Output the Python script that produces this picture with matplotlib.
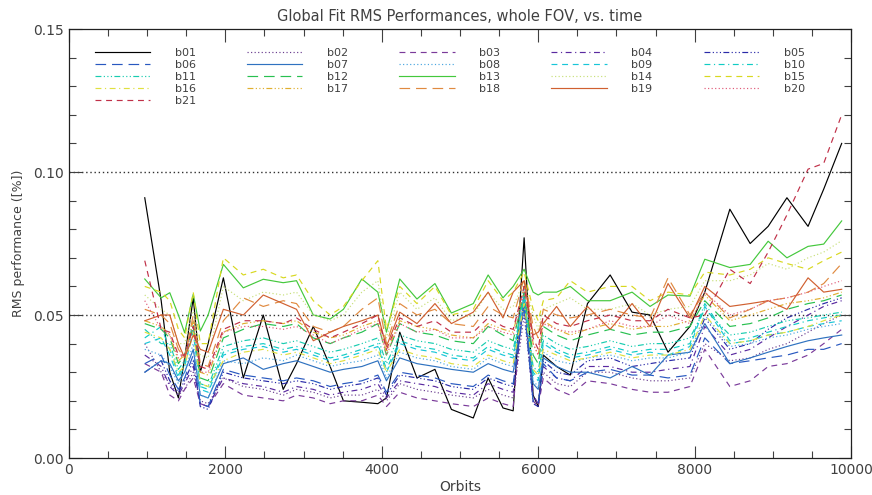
import matplotlib
matplotlib.use("Agg")
import matplotlib.pyplot as plt
from matplotlib.ticker import MultipleLocator, FormatStrFormatter
import numpy as np

# orbit numbers of the measurements (shared by all bands)
orbits = [970, 1180, 1290, 1400, 1480, 1590, 1680, 1780, 1975, 2230, 2485, 2740, 2910, 3125, 3340,
          3510, 3745, 3950, 4060, 4230, 4450, 4680, 4890, 5170, 5360, 5550, 5680, 5820, 5935, 6000,
          6065, 6235, 6410, 6630, 6920, 7200, 7430, 7660, 7940, 8130, 8450, 8710, 8940, 9180, 9450,
          9650, 9880]

band_names = ["b%02d" % i for i in range(1, 22)]

b01 = [.091, .055, .030, .021, .035, .056, .030, .040, .063, .028, .050, .024, .033, .046, .032,
       .020, .0195, .019, .021, .044, .028, .031, .017, .014, .028, .0175, .0165, .077, .022, .018,
       .036, .032, .029, .054, .064, .051, .050, .037, .046, .058, .087, .075, .081, .091, .081,
       .094, .110]
b02 = [.040, .030, .026, .022, .024, .030, .020, .019, .028, .025, .024, .022, .024, .023, .021,
       .022, .022, .024, .020, .026, .024, .023, .022, .021, .024, .022, .021, .050, .021, .019,
       .030, .026, .025, .030, .030, .028, .027, .027, .028, .040, .034, .035, .038, .040, .044,
       .047, .050]
b03 = [.033, .030, .022, .020, .024, .028, .019, .018, .026, .022, .021, .020, .022, .021, .019,
       .020, .020, .022, .018, .023, .021, .020, .019, .018, .021, .019, .018, .058, .020, .018,
       .028, .024, .022, .027, .026, .024, .023, .023, .025, .038, .025, .027, .032, .033, .036,
       .040, .045]
b04 = [.036, .032, .025, .022, .026, .032, .019, .018, .028, .026, .025, .023, .025, .024, .022,
       .023, .024, .026, .021, .027, .026, .025, .023, .022, .026, .024, .023, .056, .022, .019,
       .032, .028, .027, .032, .032, .030, .030, .031, .032, .046, .036, .038, .042, .046, .050,
       .053, .055]
b05 = [.030, .034, .027, .023, .027, .034, .018, .017, .030, .028, .027, .026, .027, .026, .024,
       .025, .026, .028, .022, .029, .028, .027, .025, .024, .028, .026, .025, .055, .019, .018,
       .034, .030, .029, .034, .035, .032, .033, .034, .035, .049, .038, .040, .045, .049, .052,
       .054, .056]
b06 = [.033, .036, .029, .024, .028, .036, .019, .018, .031, .029, .028, .027, .028, .027, .025,
       .026, .027, .029, .023, .030, .029, .028, .026, .025, .029, .027, .026, .053, .020, .019,
       .033, .028, .027, .030, .031, .029, .029, .028, .029, .042, .033, .034, .035, .036, .038,
       .038, .040]
b07 = [.030, .034, .033, .027, .030, .038, .022, .021, .033, .035, .031, .033, .034, .032, .030,
       .031, .032, .034, .027, .035, .033, .032, .031, .030, .033, .031, .030, .055, .026, .024,
       .035, .032, .030, .030, .028, .032, .029, .036, .037, .047, .033, .035, .037, .039, .041,
       .042, .043]
b08 = [.038, .036, .032, .026, .030, .040, .022, .021, .034, .033, .035, .034, .036, .034, .032,
       .033, .034, .036, .028, .037, .035, .034, .032, .031, .035, .033, .032, .060, .027, .025,
       .037, .034, .033, .035, .036, .034, .035, .035, .037, .050, .039, .040, .042, .043, .045,
       .046, .047]
b09 = [.040, .042, .036, .028, .032, .044, .024, .023, .036, .038, .039, .037, .038, .036, .034,
       .035, .037, .039, .030, .040, .038, .037, .035, .034, .038, .036, .035, .058, .029, .027,
       .040, .037, .035, .036, .038, .036, .037, .036, .039, .053, .040, .041, .043, .044, .046,
       .047, .048]
b10 = [.042, .046, .038, .029, .033, .046, .025, .024, .037, .039, .040, .038, .039, .037, .035,
       .036, .038, .040, .031, .041, .039, .038, .036, .035, .039, .037, .036, .057, .030, .028,
       .041, .038, .036, .037, .039, .037, .038, .038, .040, .054, .041, .042, .044, .046, .048,
       .049, .050]
b11 = [.045, .040, .040, .031, .034, .048, .026, .025, .039, .041, .042, .040, .041, .039, .037,
       .038, .040, .042, .033, .043, .041, .040, .038, .037, .041, .039, .038, .056, .032, .030,
       .043, .040, .038, .039, .041, .039, .040, .040, .042, .052, .043, .044, .046, .048, .049,
       .050, .051]
b12 = [.047, .045, .042, .033, .036, .046, .028, .027, .042, .045, .047, .046, .047, .042, .040,
       .042, .044, .047, .036, .047, .044, .043, .041, .040, .046, .043, .041, .058, .036, .033,
       .046, .043, .041, .043, .045, .043, .044, .044, .046, .055, .046, .047, .049, .052, .054,
       .055, .057]
b13 = [.0626, .056, .0578, .050, .0438, .0573, .0444, .050, .0677, .0595, .0625, .0613, .062, .050,
       .0486, .052, .0626, .058, .044, .0626, .0556, .061, .0507, .054, .064, .056, .060, .066, .058,
       .057, .058, .058, .060, .055, .055, .058, .053, .057, .0566, .0695, .0666, .0677, .0758, .070,
       .074, .0748, .0829]
b14 = [.057, .052, .050, .040, .040, .052, .036, .035, .060, .055, .058, .057, .058, .050, .048,
       .050, .058, .062, .042, .058, .052, .056, .048, .050, .058, .052, .053, .062, .050, .045,
       .052, .054, .056, .052, .052, .054, .050, .052, .053, .062, .062, .064, .068, .066, .070,
       .072, .076]
b15 = [.060, .058, .055, .045, .042, .058, .040, .040, .070, .064, .066, .063, .064, .055, .050,
       .053, .062, .069, .045, .060, .054, .060, .050, .052, .062, .055, .058, .065, .052, .048,
       .055, .056, .062, .058, .060, .060, .055, .058, .057, .065, .064, .066, .070, .068, .066,
       .069, .072]
b16 = [.044, .042, .038, .030, .032, .044, .026, .025, .034, .037, .038, .036, .037, .035, .033,
       .034, .036, .038, .030, .038, .036, .035, .033, .032, .036, .034, .033, .054, .031, .029,
       .038, .036, .034, .035, .037, .035, .036, .036, .038, .050, .040, .041, .043, .044, .046,
       .048, .050]
b17 = [.048, .046, .043, .034, .036, .048, .030, .029, .044, .047, .048, .047, .048, .044, .042,
       .043, .046, .048, .037, .048, .046, .045, .043, .042, .047, .045, .044, .060, .040, .036,
       .048, .045, .043, .045, .047, .045, .046, .046, .048, .057, .048, .050, .052, .054, .055,
       .056, .058]
b18 = [.052, .050, .047, .038, .035, .050, .033, .032, .048, .056, .053, .055, .054, .046, .044,
       .046, .052, .056, .040, .054, .050, .052, .047, .046, .053, .050, .049, .063, .046, .042,
       .052, .050, .049, .050, .052, .050, .049, .063, .050, .058, .049, .052, .055, .056, .058,
       .061, .068]
b19 = [.048, .050, .050, .040, .035, .043, .038, .037, .052, .050, .057, .054, .052, .041, .044,
       .046, .048, .050, .039, .051, .047, .054, .047, .051, .058, .049, .058, .062, .043, .044,
       .047, .053, .046, .053, .045, .054, .046, .061, .049, .060, .053, .054, .055, .052, .063,
       .058, .059]
b20 = [.055, .045, .043, .035, .036, .046, .030, .030, .044, .046, .046, .045, .046, .043, .040,
       .042, .045, .047, .036, .047, .044, .045, .042, .042, .046, .044, .043, .058, .040, .036,
       .047, .045, .044, .045, .048, .046, .046, .050, .047, .058, .050, .052, .055, .056, .058,
       .060, .062]
b21 = [.069, .045, .044, .036, .036, .046, .032, .031, .045, .048, .048, .047, .049, .045, .042,
       .044, .047, .050, .038, .049, .046, .048, .044, .044, .049, .046, .045, .060, .042, .038,
       .050, .047, .046, .048, .050, .048, .048, .052, .049, .050, .066, .061, .072, .085, .101,
       .103, .120]

bands = [b01, b02, b03, b04, b05, b06, b07, b08, b09, b10, b11,
         b12, b13, b14, b15, b16, b17, b18, b19, b20, b21]

# IDL-like rainbow table, one colour per band
colors = ['#000000', '#6a3d8f', '#7a3a9a', '#5a2aa0', '#2a2aa8', '#2858c0', '#2f72c0',
          '#4aa6e0', '#18c6d8', '#10ccc4', '#18ccb0', '#28c050', '#44c83c', '#c8e07a',
          '#d8d820', '#e0e040', '#e0b030', '#e08a40', '#d06030', '#e05a78', '#c03048']
# IDL linestyles 0..5 cycled
idl_ls = ['-', (0, (1, 2)), (0, (5, 4)), (0, (5, 3, 1, 3)),
          (0, (5, 2, 1, 2, 1, 2, 1, 2)), (0, (9, 5))]

plt.rcParams['font.family'] = ['DejaVu Sans']
txt_col = '#404040'

fig = plt.figure(figsize=(8.72, 4.95), dpi=100)
ax = fig.add_axes([0.079, 0.0747, 0.897, 0.8667])

lines = []
for i, vals in enumerate(bands):
    ln, = ax.plot(orbits, vals, color=colors[i], linestyle=idl_ls[i % 6], linewidth=0.85,
                  label=band_names[i])
    lines.append(ln)

for yv in [0.05, 0.10]:
    ax.axhline(yv, color='#303030', linestyle=(0, (1, 2)), linewidth=1.0, zorder=0)

ax.set_xlim(0, 10000)
ax.set_ylim(0, 0.15)
ax.xaxis.set_major_locator(MultipleLocator(2000))
ax.xaxis.set_minor_locator(MultipleLocator(500))
ax.yaxis.set_major_locator(MultipleLocator(0.05))
ax.yaxis.set_minor_locator(MultipleLocator(0.01))
ax.yaxis.set_major_formatter(FormatStrFormatter('%.2f'))
ax.tick_params(which='both', direction='in', top=True, right=True, colors=txt_col,
               labelsize=10, width=0.8)
ax.tick_params(which='major', length=9)
ax.tick_params(which='minor', length=5)
for sp in ax.spines.values():
    sp.set_color('#202020')
    sp.set_linewidth(0.9)

ax.set_title('Global Fit RMS Performances, whole FOV, vs. time', fontsize=10.5,
             color=txt_col, pad=6)
ax.set_xlabel('Orbits', fontsize=10, color=txt_col, labelpad=2)
ax.set_ylabel('RMS performance ([%])', fontsize=9, color=txt_col, labelpad=6)

# legend filled row-wise: reorder to column-major for 5 columns
order = []
for c in range(5):
    order += list(range(c, 21, 5))
ax.legend([lines[k] for k in order], [band_names[k] for k in order], ncol=5,
          loc='upper left', bbox_to_anchor=(0.033, 0.955), frameon=False, fontsize=8,
          handlelength=5.0, handletextpad=2.2, columnspacing=4.6, labelspacing=0.18,
          borderpad=0, borderaxespad=0, labelcolor=txt_col)

fig.savefig('out.png', dpi=100)
